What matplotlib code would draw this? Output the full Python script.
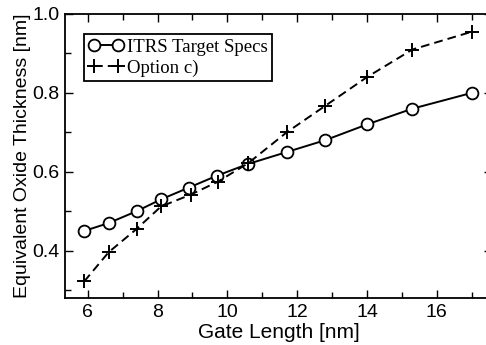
import matplotlib
matplotlib.use("Agg")
import matplotlib.pyplot as plt
from matplotlib.ticker import MultipleLocator

gate_itrs = [5.9, 6.6, 7.4, 8.1, 8.9, 9.7, 10.6, 11.7, 12.8, 14.0, 15.3, 17.0]
eot_itrs = [0.45, 0.47, 0.50, 0.53, 0.56, 0.59, 0.62, 0.65, 0.68, 0.72, 0.76, 0.80]
gate_opt = [5.9, 6.6, 7.4, 8.1, 8.95, 9.73, 10.6, 11.7, 12.8, 14.0, 15.3, 17.0]
eot_opt = [0.322, 0.396, 0.455, 0.512, 0.542, 0.575, 0.622, 0.70, 0.767, 0.84, 0.91, 0.955]

fig = plt.figure(figsize=(4.86, 3.45), dpi=100)
ax = fig.add_axes([65/486, 47/345, 427/486, 284/345])

ax.plot(gate_itrs, eot_itrs, '-', color='black', lw=1.4, marker='o', ms=8.5,
        mfc='white', mec='black', mew=1.3, label='ITRS Target Specs')
ax.plot(gate_opt, eot_opt, '--', color='black', lw=1.4, dashes=(4.5, 2.6), marker='+', ms=10,
        mew=1.4, label='Option c)')

ax.set_xlim(5.35, 17.58)
ax.set_ylim(0.28, 1.0)
ax.xaxis.set_major_locator(MultipleLocator(2))
ax.xaxis.set_minor_locator(MultipleLocator(1))
ax.yaxis.set_major_locator(MultipleLocator(0.2))
ax.yaxis.set_minor_locator(MultipleLocator(0.1))
ax.tick_params(which='both', direction='in', top=True, right=True, width=1.0)
ax.tick_params(which='major', length=6, labelsize=14, pad=4)
ax.tick_params(which='minor', length=4)
for lab in ax.get_xticklabels() + ax.get_yticklabels():
    lab.set_family('Liberation Sans')
for s in ax.spines.values():
    s.set_linewidth(1.3)

ax.set_xlabel('Gate Length [nm]', fontsize=15, family='Liberation Sans', labelpad=1.5)
ax.set_ylabel('Equivalent Oxide Thickness [nm]', fontsize=14, family='Liberation Sans', labelpad=1)

leg = ax.legend(loc='upper left', bbox_to_anchor=(0.044, 0.93), numpoints=2,
                handlelength=1.9, handletextpad=0.15, borderpad=0.25, labelspacing=0.2,
                borderaxespad=0, fancybox=False, framealpha=1,
                prop={'family': 'Liberation Serif', 'size': 13.5})
leg.get_frame().set_edgecolor('black')
leg.get_frame().set_linewidth(1.3)

fig.savefig('out.png', dpi=100)
